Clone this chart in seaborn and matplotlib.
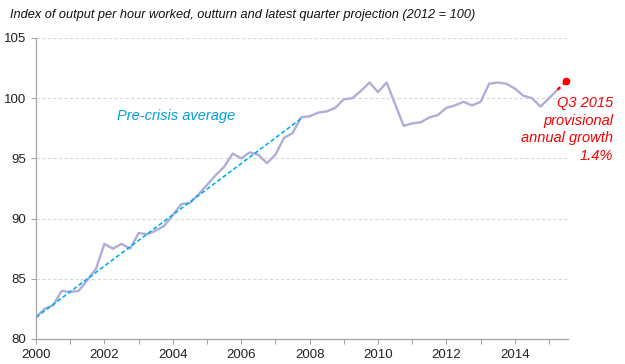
import pandas as pd
import numpy as np
import matplotlib.pyplot as plt
import seaborn as sns

# quarterly index, 2000 Q1 .. 2015 Q2 (outturn)
output_index = [81.8, 82.5, 82.8, 84.0,
                83.9, 84.0, 84.9, 85.8,
                87.9, 87.5, 87.9, 87.5,
                88.8, 88.7, 89.0, 89.4,
                90.3, 91.2, 91.3, 92.0,
                92.8, 93.6, 94.3, 95.4,
                95.0, 95.5, 95.3, 94.6,
                95.3, 96.7, 97.1, 98.4,
                98.5, 98.8, 98.9, 99.2,
                99.9, 100.0, 100.6, 101.3,
                100.5, 101.3, 99.5, 97.7,
                97.9, 98.0, 98.4, 98.6,
                99.2, 99.4, 99.7, 99.4,
                99.7, 101.2, 101.3, 101.2,
                100.8, 100.2, 100.0, 99.3,
                100.0, 100.7]
quarters = [2000 + i / 4 for i in range(len(output_index))]

# latest quarter projection (2015 Q2 -> Q3)
proj_quarters = [2015.25, 2015.5]
proj_values = [100.7, 101.4]

# pre-crisis average trend, 2000 Q1 to 2007 Q4
trend_quarters = [2000.0, 2007.75]
trend_values = [81.8, 98.3]

df = pd.DataFrame({"quarter": quarters, "index": output_index})
proj = pd.DataFrame({"quarter": proj_quarters, "index": proj_values})
trend = pd.DataFrame({"quarter": trend_quarters, "index": trend_values})

sns.set_style("white")
plt.rcParams['font.family'] = ['Liberation Sans', 'DejaVu Sans']

fig = plt.figure(figsize=(6.25, 3.64), dpi=100)
ax = fig.add_axes([0.0576, 0.0687, 0.851, 0.827])

sns.lineplot(data=df, x="quarter", y="index", ax=ax, color="#AEAED8", linewidth=1.7)
sns.lineplot(data=trend, x="quarter", y="index", ax=ax, color="#00B0F0",
             linewidth=1.2, linestyle=(0, (2.5, 1.5)))
sns.lineplot(data=proj, x="quarter", y="index", ax=ax, color="#FF0000",
             linewidth=1.8, linestyle=(0, (1.5, 1.5)))
ax.plot(proj_quarters[-1], proj_values[-1], 'o', color="#FF0000", ms=4.5, clip_on=False, zorder=5)

ax.set_xlim(2000, 2015.55)
ax.set_ylim(80, 105)
ax.set_xticks(range(2000, 2016))
ax.set_xticklabels([str(y) if y % 2 == 0 else "" for y in range(2000, 2016)])
ax.set_yticks(range(80, 106, 5))
ax.set_xlabel("")
ax.set_ylabel("")
ax.tick_params(axis='both', labelsize=9.5, colors="#222222", length=3.5, width=0.8,
               direction='out', left=True, bottom=True)
ax.tick_params(axis='both', color="#A6A6A6")
for s in ["top", "right"]:
    ax.spines[s].set_visible(False)
for s in ["left", "bottom"]:
    ax.spines[s].set_color("#A6A6A6")
    ax.spines[s].set_linewidth(0.9)
ax.yaxis.grid(True, color="#D9D9D9", linestyle=(0, (3, 2)), linewidth=0.8)
ax.set_axisbelow(True)

ax.text(2004.1, 98.55, "Pre-crisis average", color="#00A0E0", style="italic",
        fontsize=10.5, ha="center", va="center")
ax.text(2016.87, 100.15, "Q3 2015\nprovisional\nannual growth\n1.4%", color="#FF0000",
        style="italic", fontsize=10.5, ha="right", va="top", linespacing=1.32, clip_on=False)

fig.text(0.016, 0.958, "Index of output per hour worked, outturn and latest quarter projection (2012 = 100)",
         style="italic", fontsize=9.2, ha="left", va="center", color="#111111")

fig.savefig("out.png", dpi=100)
